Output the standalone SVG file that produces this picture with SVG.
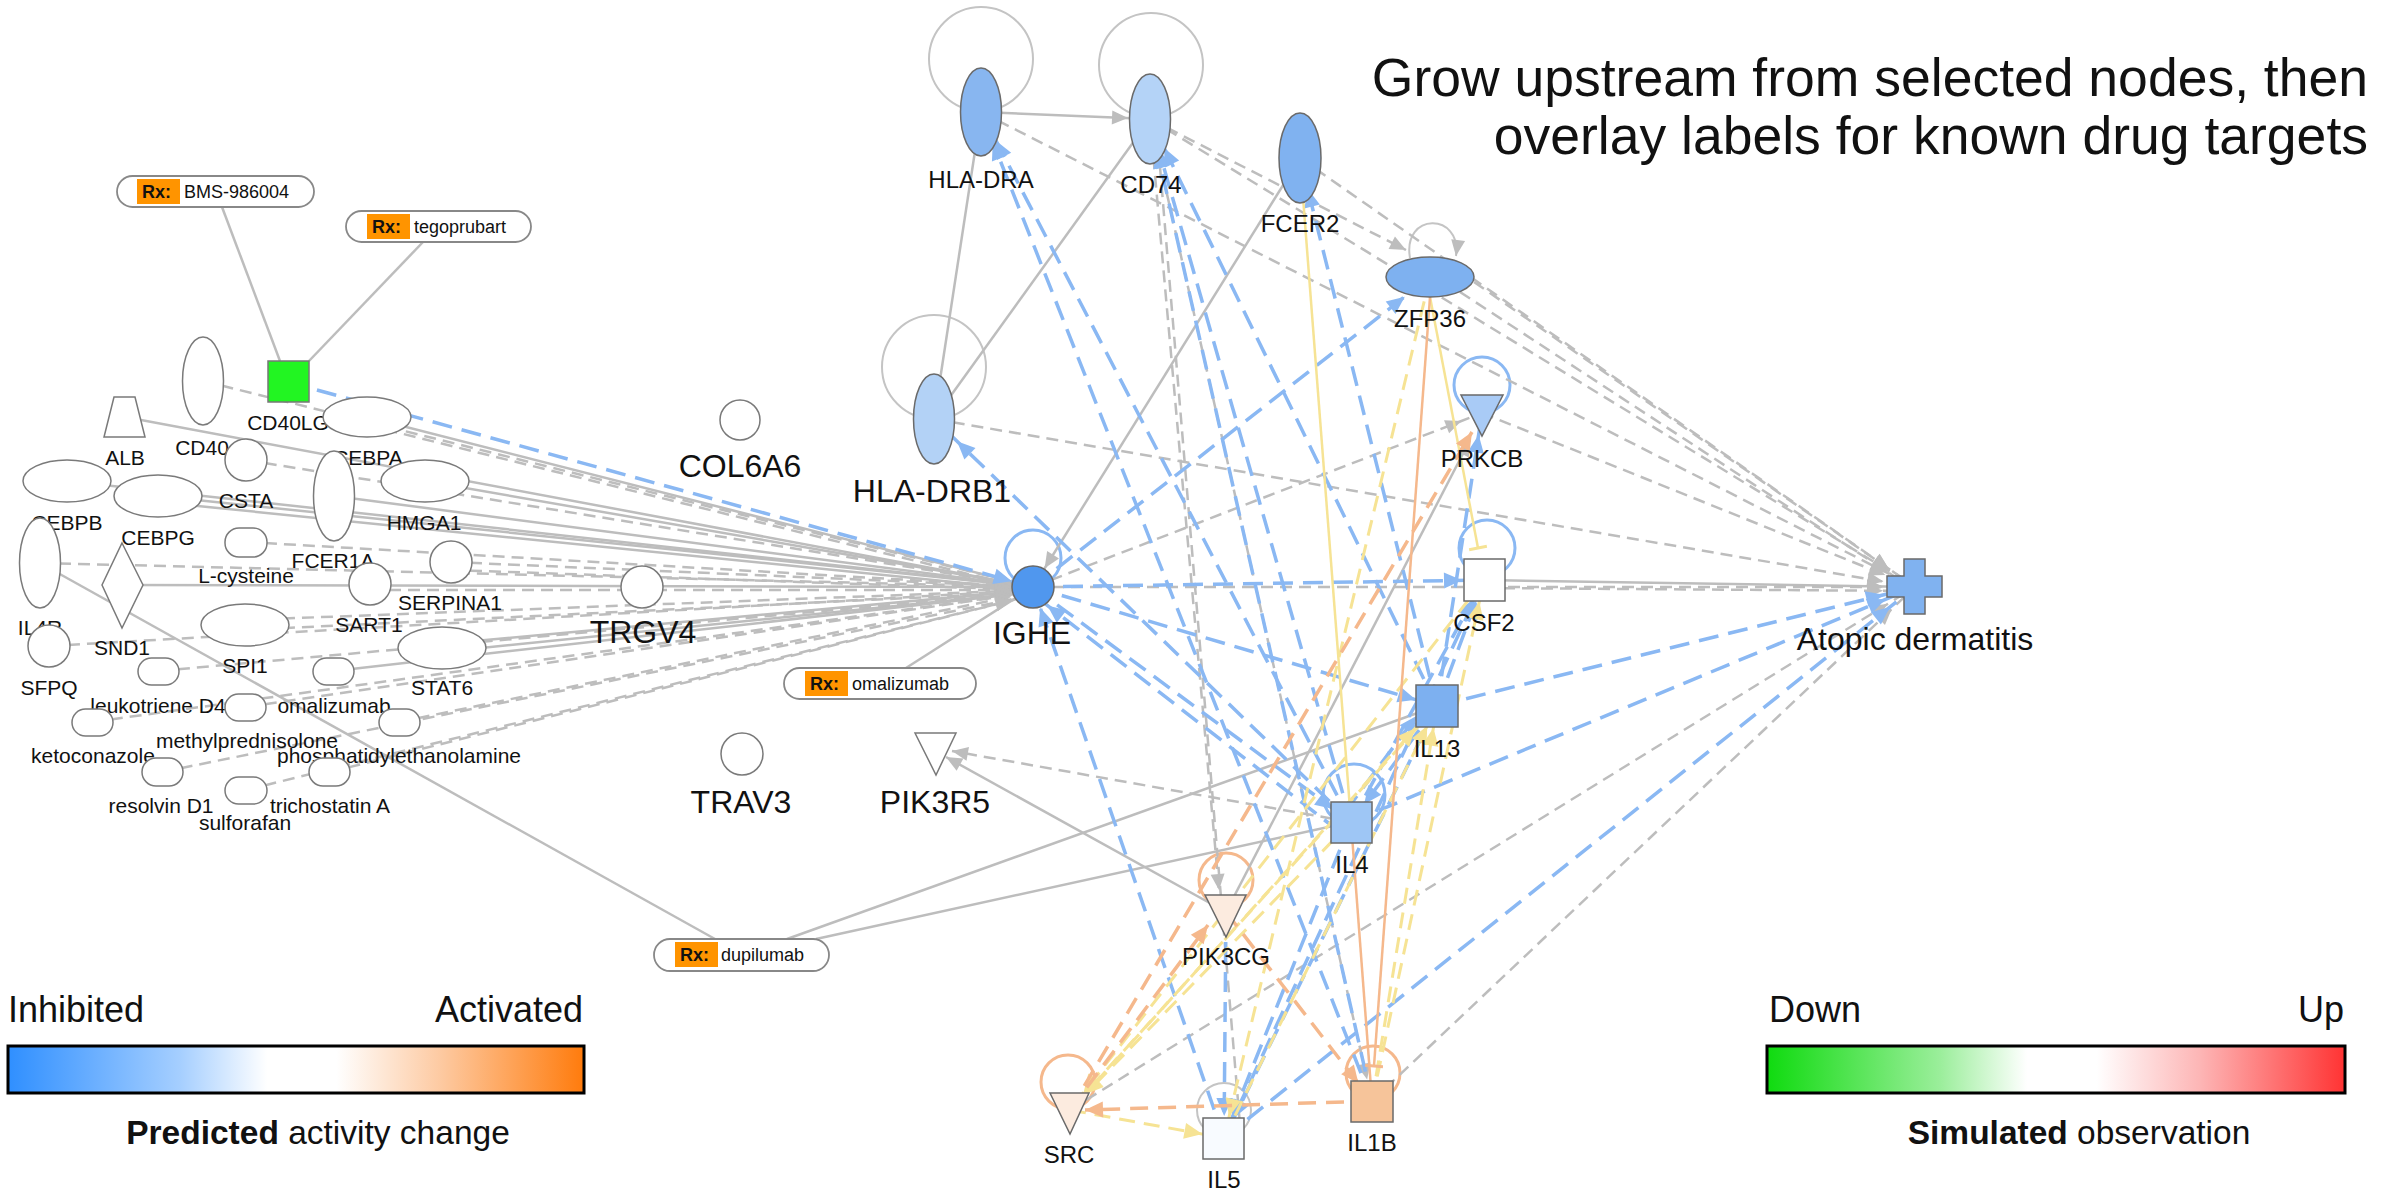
<svg xmlns="http://www.w3.org/2000/svg" width="2397" height="1192" viewBox="0 0 2397 1192">
<style>
text{font-family:"Liberation Sans",Arial,sans-serif;fill:#111}
.s{font-size:21px;text-anchor:middle}
.m{font-size:24px;text-anchor:middle}
.l{font-size:32px;text-anchor:middle}
.n{fill:#fff;stroke:#7a7a7a;stroke-width:1.5}
.pill{fill:#fff;stroke:#888;stroke-width:1.8}
.rx{fill:#ff9400}
.rxt{font-size:18px;font-weight:bold}
.pt{font-size:18px}
.g{stroke:#bdbdbd;stroke-width:2.5;fill:none}
.gd{stroke:#bdbdbd;stroke-width:2.5;stroke-dasharray:12 7;fill:none}
.bd{stroke:#8ab8f3;stroke-width:3.5;stroke-dasharray:20 10;fill:none}
.yd{stroke:#f6e394;stroke-width:3;stroke-dasharray:16 9;fill:none}
.ys{stroke:#f6e394;stroke-width:2.5;fill:none}
.od{stroke:#f5b88c;stroke-width:3.5;stroke-dasharray:18 10;fill:none}
.os{stroke:#f5b88c;stroke-width:2.5;fill:none}
.lb{stroke:#8ab8f3;stroke-width:3;fill:none}
.lo{stroke:#f5b88c;stroke-width:3;fill:none}
.lg{stroke:#c4c4c4;stroke-width:2;fill:none}
.title{font-size:53.5px;text-anchor:end}
.leg{font-size:36px}
.cap{font-size:33.5px;text-anchor:middle}
</style>
<defs>
<marker id="ag0" markerUnits="userSpaceOnUse" refX="16" refY="7" orient="auto" overflow="visible"><path d="M0,0L16,7L0,14z" fill="#bdbdbd"/></marker>
<marker id="ag22" markerUnits="userSpaceOnUse" refX="38" refY="7" orient="auto" overflow="visible"><path d="M0,0L16,7L0,14z" fill="#bdbdbd"/></marker>
<marker id="ag32" markerUnits="userSpaceOnUse" refX="48" refY="7" orient="auto" overflow="visible"><path d="M0,0L16,7L0,14z" fill="#bdbdbd"/></marker>
<marker id="ab0" markerUnits="userSpaceOnUse" refX="18" refY="8" orient="auto" overflow="visible"><path d="M0,0L18,8L0,16z" fill="#8ab8f3"/></marker>
<marker id="ab22" markerUnits="userSpaceOnUse" refX="40" refY="8" orient="auto" overflow="visible"><path d="M0,0L18,8L0,16z" fill="#8ab8f3"/></marker>
<marker id="ab32" markerUnits="userSpaceOnUse" refX="50" refY="8" orient="auto" overflow="visible"><path d="M0,0L18,8L0,16z" fill="#8ab8f3"/></marker>
<marker id="ay22" markerUnits="userSpaceOnUse" refX="40" refY="8" orient="auto" overflow="visible"><path d="M0,0L18,8L0,16z" fill="#f6e394"/></marker>
<marker id="ao0" markerUnits="userSpaceOnUse" refX="18" refY="8" orient="auto" overflow="visible"><path d="M0,0L18,8L0,16z" fill="#f5b88c"/></marker>
<marker id="ao22" markerUnits="userSpaceOnUse" refX="40" refY="8" orient="auto" overflow="visible"><path d="M0,0L18,8L0,16z" fill="#f5b88c"/></marker>
<marker id="ty0" markerUnits="userSpaceOnUse" refX="0" refY="9" orient="auto" overflow="visible"><path d="M0,0L0,18" stroke="#f6e394" stroke-width="3"/></marker>
<marker id="to0" markerUnits="userSpaceOnUse" refX="0" refY="9" orient="auto" overflow="visible"><path d="M0,0L0,18" stroke="#f5b88c" stroke-width="3"/></marker>
<linearGradient id="gp" x1="0" x2="1" y1="0" y2="0">
<stop offset="0" stop-color="#2f8fff"/><stop offset="0.3" stop-color="#a6cfff"/><stop offset="0.45" stop-color="#fff"/><stop offset="0.57" stop-color="#fff"/><stop offset="0.75" stop-color="#fdcaa2"/><stop offset="1" stop-color="#ff7b0c"/>
</linearGradient>
<linearGradient id="gs" x1="0" x2="1" y1="0" y2="0">
<stop offset="0" stop-color="#0fdb0f"/><stop offset="0.3" stop-color="#9bee9b"/><stop offset="0.45" stop-color="#fff"/><stop offset="0.57" stop-color="#fff"/><stop offset="0.75" stop-color="#fdb5b5"/><stop offset="1" stop-color="#ff3333"/>
</linearGradient>
</defs>

<g id="title">
<text class="title" x="2368" y="96">Grow upstream from selected nodes, then</text>
<text class="title" x="2368" y="154">overlay labels for known drug targets</text>
</g>

<g id="connectors">
<line class="g" x1="222" y1="207" x2="280" y2="361"/>
<line class="g" x1="423" y1="242" x2="309" y2="361"/>
<line class="g" x1="906" y1="668" x2="1033" y2="587"/>
<line class="g" x1="40" y1="563" x2="715" y2="939"/>
<line class="g" x1="787" y1="939" x2="1437" y2="706"/>
<line class="g" x1="816" y1="939" x2="1351" y2="822"/>
<line class="gd" x1="203" y1="381" x2="1033" y2="587" marker-end="url(#ag22)"/>
<line class="g" x1="125" y1="417" x2="1033" y2="587" marker-end="url(#ag22)"/>
<line class="g" x1="367" y1="417" x2="1033" y2="587" marker-end="url(#ag22)"/>
<line class="gd" x1="367" y1="425" x2="1033" y2="590" marker-end="url(#ag22)"/>
<line class="gd" x1="246" y1="460" x2="1033" y2="587" marker-end="url(#ag22)"/>
<line class="g" x1="425" y1="481" x2="1033" y2="587" marker-end="url(#ag22)"/>
<line class="g" x1="67" y1="481" x2="1033" y2="587" marker-end="url(#ag22)"/>
<line class="g" x1="158" y1="496" x2="1033" y2="587" marker-end="url(#ag22)"/>
<line class="g" x1="158" y1="502" x2="1033" y2="590" marker-end="url(#ag22)"/>
<line class="g" x1="334" y1="496" x2="1033" y2="587" marker-end="url(#ag22)"/>
<line class="gd" x1="246" y1="542" x2="1033" y2="587" marker-end="url(#ag22)"/>
<line class="gd" x1="451" y1="562" x2="1033" y2="587" marker-end="url(#ag22)"/>
<line class="gd" x1="451" y1="570" x2="1033" y2="590" marker-end="url(#ag22)"/>
<line class="gd" x1="40" y1="563" x2="1033" y2="587" marker-end="url(#ag22)"/>
<line class="g" x1="122" y1="585" x2="1033" y2="587" marker-end="url(#ag22)"/>
<line class="gd" x1="370" y1="590" x2="1033" y2="590" marker-end="url(#ag22)"/>
<line class="gd" x1="245" y1="620" x2="1033" y2="590" marker-end="url(#ag22)"/>
<line class="gd" x1="245" y1="630" x2="1033" y2="592" marker-end="url(#ag22)"/>
<line class="g" x1="442" y1="644" x2="1033" y2="590" marker-end="url(#ag22)"/>
<line class="g" x1="442" y1="652" x2="1033" y2="592" marker-end="url(#ag22)"/>
<line class="gd" x1="49" y1="646" x2="1033" y2="590" marker-end="url(#ag22)"/>
<line class="gd" x1="159" y1="671" x2="1033" y2="592" marker-end="url(#ag22)"/>
<line class="g" x1="334" y1="671" x2="1033" y2="592" marker-end="url(#ag22)"/>
<line class="gd" x1="246" y1="707" x2="1033" y2="592" marker-end="url(#ag22)"/>
<line class="gd" x1="92" y1="722" x2="1033" y2="592" marker-end="url(#ag22)"/>
<line class="gd" x1="399" y1="722" x2="1033" y2="592" marker-end="url(#ag22)"/>
<line class="gd" x1="162" y1="772" x2="1033" y2="595" marker-end="url(#ag22)"/>
<line class="gd" x1="330" y1="772" x2="1033" y2="595" marker-end="url(#ag22)"/>
<line class="gd" x1="246" y1="790" x2="1033" y2="595" marker-end="url(#ag22)"/>
<line class="bd" x1="288" y1="382" x2="1033" y2="587" marker-end="url(#ab22)"/>

<circle class="lg" cx="981" cy="59" r="52"/>
<circle class="lg" cx="1151" cy="65" r="52"/>
<circle class="lg" cx="934" cy="367" r="52"/>
<circle class="lg" cx="1224" cy="1110" r="27"/>
<path class="lg" d="M1410,258 C1402,212 1462,212 1456,256" marker-end="url(#ag0)"/>
<circle class="lb" cx="1033" cy="558" r="28"/>
<circle class="lb" cx="1482" cy="385" r="28"/>
<circle class="lb" cx="1487" cy="548" r="28"/>
<circle class="lb" cx="1354" cy="795" r="31"/>
<circle class="lo" cx="1226" cy="880" r="27"/>
<circle class="lo" cx="1068" cy="1082" r="27"/>
<circle class="lo" cx="1373" cy="1073" r="27"/>

<line class="g" x1="981" y1="112" x2="1150" y2="119" marker-end="url(#ag22)"/>
<line class="g" x1="981" y1="112" x2="934" y2="419"/>
<line class="g" x1="1150" y1="119" x2="934" y2="419"/>
<line class="g" x1="1300" y1="158" x2="1033" y2="587" marker-end="url(#ag22)"/>
<line class="g" x1="1226" y1="912" x2="946" y2="757" marker-end="url(#ag0)"/>
<line class="g" x1="1226" y1="912" x2="1470" y2="440" marker-end="url(#ag0)"/>
<line class="g" x1="1484" y1="580" x2="1915" y2="587" marker-end="url(#ag32)"/>
<line class="gd" x1="981" y1="112" x2="1915" y2="587" marker-end="url(#ag32)"/>
<line class="gd" x1="1150" y1="119" x2="1915" y2="587" marker-end="url(#ag32)"/>
<line class="gd" x1="1300" y1="158" x2="1915" y2="587" marker-end="url(#ag32)"/>
<line class="gd" x1="1474" y1="282" x2="1915" y2="587" marker-end="url(#ag32)"/>
<line class="gd" x1="1460" y1="292" x2="1915" y2="590" marker-end="url(#ag32)"/>
<line class="gd" x1="934" y1="419" x2="1915" y2="587" marker-end="url(#ag32)"/>
<line class="gd" x1="1482" y1="413" x2="1915" y2="587" marker-end="url(#ag32)"/>
<line class="gd" x1="1033" y1="587" x2="1915" y2="587" marker-end="url(#ag32)"/>
<line class="gd" x1="1484" y1="588" x2="1915" y2="591" marker-end="url(#ag32)"/>
<line class="gd" x1="1070" y1="1110" x2="1915" y2="587" marker-end="url(#ag32)"/>
<line class="gd" x1="1372" y1="1101" x2="1915" y2="587" marker-end="url(#ag32)"/>
<line class="gd" x1="1150" y1="119" x2="1406" y2="250" marker-end="url(#ag0)"/>
<line class="gd" x1="1150" y1="119" x2="1219" y2="890" marker-end="url(#ag0)"/>
<line class="gd" x1="1240" y1="1125" x2="1156" y2="119" marker-end="url(#ag32)"/>
<line class="gd" x1="1150" y1="119" x2="1372" y2="1101" marker-end="url(#ag22)"/>
<line class="gd" x1="1033" y1="587" x2="1482" y2="413" marker-end="url(#ag22)"/>
<line class="gd" x1="1351" y1="822" x2="952" y2="751" marker-end="url(#ag0)"/>

<line class="bd" x1="1351" y1="822" x2="981" y2="112" marker-end="url(#ab32)"/>
<line class="bd" x1="1372" y1="1101" x2="981" y2="112" marker-end="url(#ab32)"/>
<line class="bd" x1="1351" y1="822" x2="1150" y2="119" marker-end="url(#ab32)"/>
<line class="bd" x1="1437" y1="706" x2="1150" y2="119" marker-end="url(#ab32)"/>
<line class="bd" x1="1437" y1="706" x2="1300" y2="158" marker-end="url(#ab32)"/>
<line class="bd" x1="1372" y1="1101" x2="1150" y2="119" marker-end="url(#ab32)"/>
<line class="bd" x1="1033" y1="587" x2="1430" y2="277" marker-end="url(#ab32)"/>
<line class="bd" x1="1351" y1="822" x2="934" y2="419" marker-end="url(#ab32)"/>
<line class="bd" x1="1033" y1="587" x2="1484" y2="580" marker-end="url(#ab22)"/>
<line class="bd" x1="1033" y1="587" x2="1437" y2="706" marker-end="url(#ab22)"/>
<line class="bd" x1="1033" y1="587" x2="1351" y2="822" marker-end="url(#ab22)"/>
<line class="bd" x1="1340" y1="832" x2="1030" y2="592" marker-end="url(#ab22)"/>
<line class="bd" x1="1224" y1="1138" x2="1033" y2="587" marker-end="url(#ab22)"/>
<line class="bd" x1="1437" y1="706" x2="1915" y2="587" marker-end="url(#ab32)"/>
<line class="bd" x1="1351" y1="822" x2="1915" y2="587" marker-end="url(#ab32)"/>
<line class="bd" x1="1224" y1="1138" x2="1915" y2="587" marker-end="url(#ab32)"/>
<line class="bd" x1="1437" y1="706" x2="1351" y2="822" marker-end="url(#ab22)"/>
<line class="bd" x1="1345" y1="812" x2="1430" y2="698" marker-end="url(#ab22)"/>
<line class="bd" x1="1351" y1="822" x2="1484" y2="580" marker-end="url(#ab22)"/>
<line class="bd" x1="1437" y1="706" x2="1484" y2="580" marker-end="url(#ab22)"/>
<line class="bd" x1="1437" y1="706" x2="1482" y2="413" marker-end="url(#ab22)"/>
<line class="bd" x1="1351" y1="822" x2="1224" y2="1138" marker-end="url(#ab22)"/>
<line class="bd" x1="1437" y1="706" x2="1224" y2="1138" marker-end="url(#ab22)"/>
<line class="bd" x1="1224" y1="1138" x2="1484" y2="580" marker-end="url(#ab22)"/>
<line class="bd" x1="1226" y1="912" x2="1224" y2="1138" marker-end="url(#ab22)"/>

<line class="yd" x1="1070" y1="1110" x2="1224" y2="1138" marker-end="url(#ay22)"/>
<line class="yd" x1="1351" y1="822" x2="1070" y2="1110" marker-end="url(#ay22)"/>
<line class="yd" x1="1437" y1="706" x2="1070" y2="1110" marker-end="url(#ay22)"/>
<line class="yd" x1="1484" y1="580" x2="1070" y2="1110" marker-end="url(#ay22)"/>
<line class="yd" x1="1078" y1="1102" x2="1430" y2="712" marker-end="url(#ay22)"/>
<line class="yd" x1="1372" y1="1101" x2="1484" y2="580" marker-end="url(#ay22)"/>
<line class="yd" x1="1372" y1="1101" x2="1437" y2="706" marker-end="url(#ay22)"/>
<line class="yd" x1="1224" y1="1138" x2="1437" y2="706" marker-end="url(#ay22)"/>
<line class="yd" x1="1430" y1="277" x2="1224" y2="1138" marker-end="url(#ay22)"/>
<line class="ys" x1="1430" y1="297" x2="1478" y2="548" marker-end="url(#ty0)"/>
<line class="ys" x1="1300" y1="158" x2="1351" y2="822"/>

<line class="od" x1="1372" y1="1101" x2="1085" y2="1110" marker-end="url(#ao0)"/>
<line class="od" x1="1226" y1="912" x2="1372" y2="1101" marker-end="url(#ao22)"/>
<line class="od" x1="1070" y1="1110" x2="1208" y2="925" marker-end="url(#ao0)"/>
<line class="od" x1="1070" y1="1110" x2="1472" y2="432" marker-end="url(#ao0)"/>
<line class="os" x1="1430" y1="297" x2="1374" y2="1066" marker-end="url(#to0)"/>
<line class="os" x1="1351" y1="822" x2="1372" y2="1101"/>
</g>

<g id="pill-bms"><rect class="pill" x="117" y="176" width="197" height="31" rx="15.5"/><rect class="rx" x="137" y="179" width="43" height="25"/><text class="rxt" x="142" y="198">Rx:</text><text class="pt" x="184" y="198">BMS-986004</text></g>
<g id="pill-tego"><rect class="pill" x="346" y="211" width="185" height="31" rx="15.5"/><rect class="rx" x="367" y="214" width="43" height="25"/><text class="rxt" x="372" y="233">Rx:</text><text class="pt" x="414" y="233">tegoprubart</text></g>
<g id="pill-omali"><rect class="pill" x="784" y="668" width="192" height="31" rx="15.5"/><rect class="rx" x="805" y="671" width="43" height="25"/><text class="rxt" x="810" y="690">Rx:</text><text class="pt" x="852" y="690">omalizumab</text></g>
<g id="pill-dupi"><rect class="pill" x="654" y="939" width="175" height="32" rx="16"/><rect class="rx" x="675" y="942" width="43" height="25"/><text class="rxt" x="680" y="961">Rx:</text><text class="pt" x="721" y="961">dupilumab</text></g>

<g id="CD40"><ellipse class="n" cx="203" cy="381" rx="20.5" ry="44"/><text class="s" x="202" y="455">CD40</text></g>
<g id="CD40LG"><rect x="268" y="361" width="41" height="41" fill="#22f522" stroke="#777" stroke-width="1.5"/><text class="s" x="288" y="430">CD40LG</text></g>
<g id="ALB"><polygon class="n" points="114,397 135,397 145,437 104,437"/><text class="s" x="125" y="465">ALB</text></g>
<g id="CEBPA"><ellipse class="n" cx="367" cy="417" rx="44" ry="20"/><text class="s" x="368" y="465">CEBPA</text></g>
<g id="CSTA"><circle class="n" cx="246" cy="460" r="21"/><text class="s" x="246" y="508">CSTA</text></g>
<g id="CEBPB"><ellipse class="n" cx="67" cy="481" rx="44" ry="21"/><text class="s" x="67" y="530">CEBPB</text></g>
<g id="HMGA1"><ellipse class="n" cx="425" cy="481" rx="44" ry="21"/><text class="s" x="424" y="530">HMGA1</text></g>
<g id="CEBPG"><ellipse class="n" cx="158" cy="496" rx="44" ry="21"/><text class="s" x="158" y="545">CEBPG</text></g>
<g id="FCER1A"><ellipse class="n" cx="334" cy="496" rx="20.5" ry="45"/><text class="s" x="333" y="568">FCER1A</text></g>
<g id="L-cysteine"><rect class="n" x="225" y="528" width="42" height="29" rx="14"/><text class="s" x="246" y="583">L-cysteine</text></g>
<g id="SERPINA1"><circle class="n" cx="451" cy="562" r="21"/><text class="s" x="450" y="610">SERPINA1</text></g>
<g id="IL4R"><ellipse class="n" cx="40" cy="563" rx="20.5" ry="45"/><text class="s" x="40" y="635">IL4R</text></g>
<g id="SND1"><polygon class="n" points="122,543 143,585 122,628 102,585"/><text class="s" x="122" y="655">SND1</text></g>
<g id="SART1"><circle class="n" cx="370" cy="584" r="21"/><text class="s" x="369" y="632">SART1</text></g>
<g id="TRGV4"><circle class="n" cx="642" cy="587" r="21"/><text class="l" x="643" y="643">TRGV4</text></g>
<g id="SPI1"><ellipse class="n" cx="245" cy="625" rx="44" ry="21"/><text class="s" x="245" y="673">SPI1</text></g>
<g id="STAT6"><ellipse class="n" cx="442" cy="648" rx="44" ry="21"/><text class="s" x="442" y="695">STAT6</text></g>
<g id="SFPQ"><circle class="n" cx="49" cy="646" r="21"/><text class="s" x="49" y="695">SFPQ</text></g>
<g id="leukotriene-D4"><rect class="n" x="138" y="658" width="41" height="27" rx="13.5"/><text class="s" x="158" y="713">leukotriene D4</text></g>
<g id="omalizumab"><rect class="n" x="313" y="658" width="41" height="27" rx="13.5"/><text class="s" x="334" y="713">omalizumab</text></g>
<g id="methylprednisolone"><rect class="n" x="225" y="694" width="41" height="27" rx="13.5"/><text class="s" x="247" y="748">methylprednisolone</text></g>
<g id="ketoconazole"><rect class="n" x="72" y="709" width="41" height="27" rx="13.5"/><text class="s" x="93" y="763">ketoconazole</text></g>
<g id="phosphatidylethanolamine"><rect class="n" x="379" y="709" width="41" height="27" rx="13.5"/><text class="s" x="399" y="763">phosphatidylethanolamine</text></g>
<g id="resolvin-D1"><rect class="n" x="142" y="758" width="41" height="28" rx="14"/><text class="s" x="161" y="813">resolvin D1</text></g>
<g id="trichostatin-A"><rect class="n" x="309" y="758" width="41" height="28" rx="14"/><text class="s" x="330" y="813">trichostatin A</text></g>
<g id="sulforafan"><rect class="n" x="225" y="777" width="42" height="27" rx="13.5"/><text class="s" x="245" y="830">sulforafan</text></g>
<g id="COL6A6"><circle class="n" cx="740" cy="420" r="20"/><text class="l" x="740" y="477">COL6A6</text></g>
<g id="TRAV3"><circle class="n" cx="742" cy="754" r="21"/><text class="l" x="741" y="813">TRAV3</text></g>
<g id="PIK3R5"><polygon class="n" points="915,733 956,733 936,775"/><text class="l" x="935" y="813">PIK3R5</text></g>

<g id="HLA-DRA"><ellipse cx="981" cy="112" rx="20.5" ry="44" fill="#88b6f0" stroke="#6a6a6a" stroke-width="1.5"/><text class="m" x="981" y="188">HLA-DRA</text></g>
<g id="CD74"><ellipse cx="1150" cy="119" rx="20.5" ry="45" fill="#b4d3f7" stroke="#6a6a6a" stroke-width="1.5"/><text class="m" x="1151" y="193">CD74</text></g>
<g id="FCER2"><ellipse cx="1300" cy="158" rx="21" ry="45" fill="#80b2f0" stroke="#6a6a6a" stroke-width="1.5"/><text class="m" x="1300" y="232">FCER2</text></g>
<g id="ZFP36"><ellipse cx="1430" cy="277" rx="44" ry="20" fill="#7eb1f0" stroke="#6a6a6a" stroke-width="1.5"/><text class="m" x="1430" y="327">ZFP36</text></g>
<g id="HLA-DRB1"><ellipse cx="934" cy="419" rx="20.5" ry="45" fill="#b3d2f6" stroke="#6a6a6a" stroke-width="1.5"/><text class="l" x="932" y="502">HLA-DRB1</text></g>
<g id="PRKCB"><polygon points="1461,395 1503,395 1482,436" fill="#a9cbf6" stroke="#6a6a6a" stroke-width="1.5"/><text class="m" x="1482" y="467">PRKCB</text></g>
<g id="IGHE"><circle cx="1033" cy="587" r="21" fill="#5097ee" stroke="#666" stroke-width="1.5"/><text class="l" x="1032" y="644">IGHE</text></g>
<g id="CSF2"><rect x="1464" y="559" width="41" height="42" fill="#fff" stroke="#6a6a6a" stroke-width="1.5"/><text class="m" x="1484" y="631">CSF2</text></g>
<g id="Atopic-dermatitis"><polygon points="1904,559 1925,559 1925,576 1942,576 1942,597 1925,597 1925,614 1904,614 1904,597 1887,597 1887,576 1904,576" fill="#80b2f0" stroke="#6a6a6a" stroke-width="1.5"/><text class="l" x="1915" y="650">Atopic dermatitis</text></g>
<g id="IL13"><rect x="1416" y="685" width="42" height="42" fill="#7db0f0" stroke="#6a6a6a" stroke-width="1.5"/><text class="m" x="1437" y="757">IL13</text></g>
<g id="IL4"><rect x="1331" y="802" width="41" height="41" fill="#9ec6f5" stroke="#6a6a6a" stroke-width="1.5"/><text class="m" x="1352" y="873">IL4</text></g>
<g id="PIK3CG"><polygon points="1205,895 1246,895 1226,937" fill="#fcebdf" stroke="#6a6a6a" stroke-width="1.5"/><text class="m" x="1226" y="965">PIK3CG</text></g>
<g id="SRC"><polygon points="1050,1093 1089,1093 1070,1134" fill="#fcebdf" stroke="#6a6a6a" stroke-width="1.5"/><text class="m" x="1069" y="1163">SRC</text></g>
<g id="IL5"><rect x="1203" y="1118" width="41" height="41" fill="#f8fbff" stroke="#6a6a6a" stroke-width="1.5"/><text class="m" x="1224" y="1188">IL5</text></g>
<g id="IL1B"><rect x="1351" y="1081" width="42" height="41" fill="#f6c49a" stroke="#6a6a6a" stroke-width="1.5"/><text class="m" x="1372" y="1151">IL1B</text></g>

<g id="legend-predicted">
<text class="leg" x="8" y="1022">Inhibited</text>
<text class="leg" x="583" y="1022" text-anchor="end">Activated</text>
<rect x="8" y="1046" width="576" height="47" fill="url(#gp)" stroke="#000" stroke-width="3"/>
<text class="cap" x="318" y="1144"><tspan font-weight="bold">Predicted</tspan> activity change</text>
</g>
<g id="legend-simulated">
<text class="leg" x="1769" y="1022">Down</text>
<text class="leg" x="2344" y="1022" text-anchor="end">Up</text>
<rect x="1767" y="1046" width="578" height="47" fill="url(#gs)" stroke="#000" stroke-width="3"/>
<text class="cap" x="2079" y="1144"><tspan font-weight="bold">Simulated</tspan> observation</text>
</g>
</svg>
